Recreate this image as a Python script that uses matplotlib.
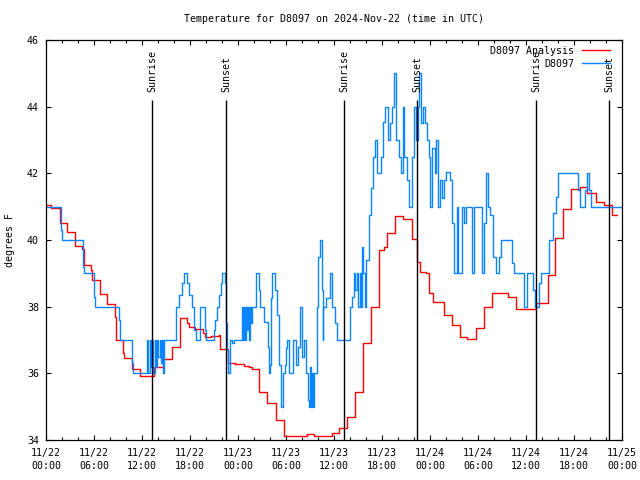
import matplotlib
matplotlib.use("Agg")
import matplotlib.pyplot as plt
from matplotlib.ticker import MultipleLocator

# ---- data (hours since 2024-11-22 00:00 UTC) ----
analysis_hours = [0.0, 0.67, 1.7, 2.62, 3.62, 4.55, 4.7, 5.6, 5.8, 6.7, 7.65, 8.6, 8.8, 9.65, 9.75,
                  10.72, 11.7, 13.5, 14.6, 15.75, 16.7, 17.6, 17.85, 18.6, 19.6, 19.9, 20.6, 21.6,
                  21.75, 22.75, 23.6, 24.7, 25.4, 25.75, 26.6, 27.65, 28.7, 29.7, 32.6, 33.5, 35.75,
                  36.6, 37.6, 38.6, 39.6, 40.6, 41.65, 42.3, 42.65, 43.65, 44.6, 45.7, 46.4, 46.75,
                  47.46, 47.9, 48.4, 48.95, 49.7, 50.7, 51.7, 52.6, 53.7, 54.7, 55.7, 57.7, 58.7,
                  61.3, 62.8, 63.6, 64.6, 65.6, 66.7, 67.6, 68.7, 69.7, 70.7, 71.4]
analysis_temps = [41.06, 40.95, 40.5, 40.24, 39.82, 39.72, 39.24, 39.1, 38.8, 38.38, 38.08, 37.7, 37.0,
                  36.6, 36.45, 36.12, 35.92, 36.2, 36.42, 36.8, 37.65, 37.52, 37.38, 37.34, 37.22,
                  37.08, 37.12, 37.15, 36.72, 36.32, 36.27, 36.22, 36.18, 36.12, 35.43, 35.12, 34.6,
                  34.12, 34.19, 34.12, 34.22, 34.35, 34.7, 35.45, 36.9, 38.0, 39.7, 39.8, 40.2,
                  40.72, 40.62, 40.02, 39.35, 39.05, 39.0, 38.4, 38.15, 38.14, 37.75, 37.45, 37.1,
                  37.02, 37.35, 38.0, 38.42, 38.3, 37.92, 38.1, 38.95, 40.05, 40.92, 41.52, 41.6,
                  41.4, 41.15, 41.05, 40.75, 40.75]

obs_hours = [0.0, 1.83, 2.0, 4.6, 4.75, 5.95, 6.08, 9.1, 9.25, 10.7, 10.83,
             12.67, 12.8, 12.95, 13.1, 13.25, 13.4, 13.6, 13.75, 13.9, 14.05, 14.2, 14.35, 14.5,
             14.65, 14.8, 16.25, 16.6, 16.95, 17.25, 17.6, 17.85, 18.25, 18.5, 18.7, 19.25, 19.85,
             20.0, 21.0, 21.15, 21.35, 21.6, 21.9, 22.0, 22.35, 22.5, 22.65, 22.8, 23.0, 23.3, 23.5,
             24.5, 24.6, 24.75, 24.85, 25.0, 25.1, 25.25, 25.35, 25.5, 25.6, 25.75, 26.25, 26.6,
             26.75, 27.25, 27.75, 27.9, 28.0, 28.1, 28.25, 28.6, 28.85, 29.1, 29.35, 29.6, 29.85,
             29.95, 30.15, 30.4, 30.85, 31.25, 31.5, 31.7, 31.95, 32.2, 32.5, 32.7, 32.9, 33.0,
             33.1, 33.25, 33.4, 33.5, 33.85, 34.0, 34.25, 34.45, 34.6, 34.65, 35.0, 35.5,
             35.75, 36.1, 36.35, 38.0, 38.25, 38.5, 38.65, 38.85, 39.0, 39.2, 39.35, 39.5, 39.65,
             39.85, 40.0, 40.35, 40.65, 40.9, 41.15, 41.4, 41.85, 42.1, 42.4, 42.7, 43.0, 43.25,
             43.5, 43.75, 44.1, 44.35, 44.6, 44.8, 45.15, 45.4, 45.75, 46.0, 46.3, 46.5, 46.65,
             46.9, 47.15, 47.4, 47.6, 47.875, 48.04, 48.3, 48.6, 48.8, 49.04, 49.3, 49.54, 49.8,
             49.96, 50.46, 50.7, 51.04, 51.375, 51.54, 51.96, 52.2, 52.46, 53.2, 53.54, 54.46,
             54.7, 54.96, 55.3, 55.54, 55.875, 56.2, 56.6, 56.875, 58.2, 58.46, 59.7, 60.1,
             60.875, 61.1, 61.6, 61.875, 62.875, 63.375, 63.7, 64.04, 66.46, 66.7, 67.375,
             67.625, 67.875, 68.125, 72.0]
obs_temps = [41.0, 40.3, 40.0, 39.2, 39.0, 38.3, 38.0, 37.6, 37.0, 36.3, 36.0,
             37.0, 36.0, 37.0, 36.2, 37.0, 36.0, 37.0, 36.2, 37.0, 36.5, 37.0, 36.3, 37.0,
             36.0, 37.0, 38.0, 38.35, 38.7, 39.0, 38.7, 38.35, 38.0, 37.3, 37.0, 38.0, 37.3,
             37.0, 37.3, 37.6, 38.0, 38.35, 38.7, 39.0, 38.7, 37.5, 36.7, 36.0, 37.0, 36.9, 37.0,
             38.0, 37.0, 38.0, 37.0, 38.0, 37.3, 38.0, 37.0, 38.0, 37.5, 38.0, 39.0, 38.5,
             38.0, 37.55, 36.8, 36.0, 36.25, 38.25, 39.0, 38.5, 37.75, 36.25, 35.0, 36.0, 36.25,
             36.75, 37.0, 36.0, 37.0, 36.25, 36.8, 38.0, 36.5, 37.0, 36.0, 35.2, 35.0, 36.2,
             35.0, 36.0, 35.0, 36.0, 38.0, 39.5, 40.0, 38.5, 37.0, 38.0, 38.25, 39.0,
             38.0, 37.5, 37.0, 38.0, 38.3, 39.0, 38.5, 39.0, 38.0, 39.0, 38.0, 39.8, 39.0,
             38.0, 39.4, 40.75, 41.55, 42.5, 43.0, 42.0, 42.5, 43.55, 44.0, 43.0, 43.5, 44.0,
             45.0, 43.0, 42.5, 42.0, 44.0, 42.5, 41.8, 41.0, 42.5, 44.0, 43.0, 44.0, 45.0,
             43.5, 44.0, 43.5, 43.0, 42.5, 41.0, 42.75, 42.0, 43.0, 41.0, 41.8, 41.25, 41.8,
             42.05, 41.8, 40.5, 39.0, 41.0, 39.0, 41.0, 40.5, 41.0, 39.0, 41.0, 39.0,
             40.5, 42.0, 41.0, 40.75, 39.5, 39.0, 39.5, 40.0, 39.3, 39.0, 38.0, 39.0,
             38.5, 38.0, 38.7, 39.0, 40.0, 40.8, 41.3, 42.0, 41.5, 41.0, 41.5,
             42.0, 41.5, 41.0, 41.0]

sun_hours = [13.25, 22.5, 37.25, 46.375, 61.25, 70.375]
sun_labels = ["Sunrise", "Sunset", "Sunrise", "Sunset", "Sunrise", "Sunset"]

xtick_hours = [0, 6, 12, 18, 24, 30, 36, 42, 48, 54, 60, 66, 72]
xtick_labels = ["11/22\n00:00", "11/22\n06:00", "11/22\n12:00", "11/22\n18:00",
                "11/23\n00:00", "11/23\n06:00", "11/23\n12:00", "11/23\n18:00",
                "11/24\n00:00", "11/24\n06:00", "11/24\n12:00", "11/24\n18:00",
                "11/25\n00:00"]
ytick_values = [34, 36, 38, 40, 42, 44, 46]

title = "Temperature for D8097 on 2024-Nov-22 (time in UTC)"
ylabel = "degrees F"
series_names = ["D8097 Analysis", "D8097"]

# ---- plot ----
FS = 7.2
plt.rcParams['font.family'] = ['DejaVu Sans Mono']
plt.rcParams['font.size'] = FS

fig = plt.figure(figsize=(6.4, 4.8), dpi=100)
ax = fig.add_axes([46/640, 40/480, 576/640, 400/480])

ax.plot(analysis_hours, analysis_temps, drawstyle='steps-post', color='#ff0000', lw=1.0,
        label=series_names[0])
ax.plot(obs_hours, obs_temps, drawstyle='steps-post', color='#0a84ff', lw=1.0,
        label=series_names[1])

ax.vlines(sun_hours, 34, 44.2, color='black', lw=1.0)
for h, lab in zip(sun_hours, sun_labels):
    ax.text(h, 44.44, lab, rotation=90, ha='center', va='bottom', fontsize=FS)

ax.set_xlim(0, 72)
ax.set_ylim(34, 46)
ax.set_xticks(xtick_hours)
ax.set_xticklabels(xtick_labels, linespacing=1.35)
ax.xaxis.set_minor_locator(MultipleLocator(2))
ax.set_yticks(ytick_values)
ax.tick_params(which='both', direction='in', top=True, right=True, width=0.8)
ax.tick_params(which='major', length=3.4)
ax.tick_params(which='minor', length=2.4)
ax.tick_params(axis='x', which='major', pad=6)
ax.tick_params(axis='y', which='major', pad=5)
for s in ax.spines.values():
    s.set_linewidth(0.9)

fig.text(334/640, 1 - 19/480, title, ha='center', va='center', fontsize=FS)
fig.text(10/640, 0.5, ylabel, rotation=90, ha='center', va='center', fontsize=FS)

ax.legend(loc='upper right', bbox_to_anchor=((610 - 46)/576, 1 - 6/400), frameon=False,
          markerfirst=False, handlelength=2.8, handletextpad=0.8, labelspacing=0.3,
          borderpad=0.0, borderaxespad=0.0, fontsize=FS)

fig.savefig("out.png", dpi=100)
